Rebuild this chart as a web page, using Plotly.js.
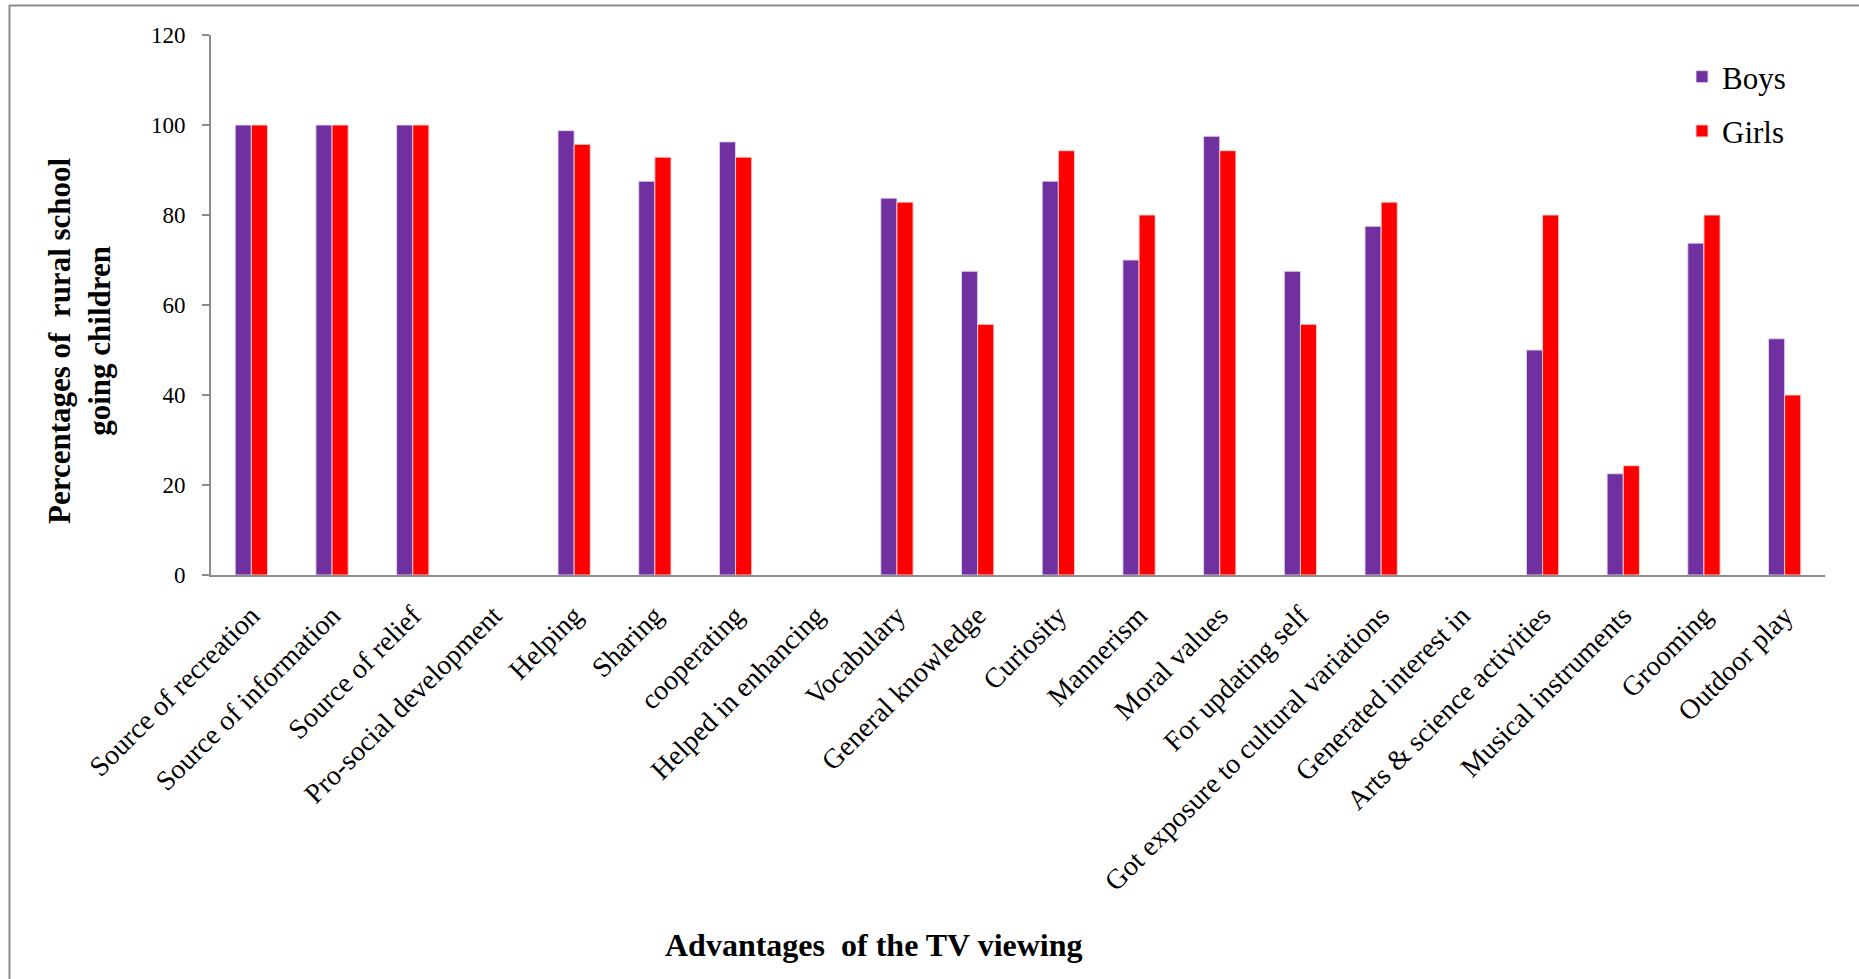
<!DOCTYPE html>
<html>
<head>
<meta charset="utf-8">
<script src="https://cdn.plot.ly/plotly-3.0.1.min.js"></script>
<style>
  html, body { margin: 0; padding: 0; background: #fff; }
  #chart { width: 1859px; height: 979px; }
</style>
</head>
<body>
<div id="chart"></div>
<script>
// Advantages of TV viewing reported by rural school going children (%)
const categories = [
  "Source of recreation",
  "Source of information",
  "Source of relief",
  "Pro-social development",
  "Helping",
  "Sharing",
  "cooperating",
  "Helped in enhancing",
  "Vocabulary",
  "General knowledge",
  "Curiosity",
  "Mannerism",
  "Moral values",
  "For updating self",
  "Got exposure to cultural variations",
  "Generated interest in",
  "Arts & science activities",
  "Musical instruments",
  "Grooming",
  "Outdoor play"
];

const boys  = [100, 100, 100, null, 98.75, 87.5, 96.25, null, 83.75, 67.5, 87.5, 70, 97.5, 67.5, 77.5, null, 50, 22.5, 73.75, 52.5];
const girls = [100, 100, 100, null, 95.71, 92.86, 92.86, null, 82.86, 55.71, 94.29, 80, 94.29, 55.71, 82.86, null, 80, 24.29, 80, 40];

const seriesNames = ["Boys", "Girls"];
const yTicks = [0, 20, 40, 60, 80, 100, 120];

const serif = "'Liberation Serif', 'Times New Roman', serif";
const W = 1859, H = 979;
const M = { l: 211, r: 34, t: 35, b: 404 };
const pw = W - M.l - M.r, ph = H - M.t - M.b;
// pixel -> paper helpers for page decorations
const px = v => (v - M.l) / pw;
const py = v => (H - M.b - v) / ph;

const traces = [
  {
    type: "bar", name: seriesNames[0], x: categories, y: boys,
    marker: { color: "#7030A0", line: { color: "rgba(230,215,240,0.9)", width: 1 } },
    legendgroup: "b", hoverinfo: "x+y"
  },
  {
    type: "bar", name: seriesNames[1], x: categories, y: girls,
    marker: { color: "#FF0000", line: { color: "rgba(255,215,215,0.9)", width: 1 } },
    legendgroup: "g", hoverinfo: "x+y"
  }
];

const layout = {
  width: W, height: H,
  margin: M,
  paper_bgcolor: "#fff", plot_bgcolor: "#fff",
  font: { family: serif, color: "#000" },
  barmode: "group", bargap: 0.6, bargroupgap: 0,
  showlegend: true,
  legend: {
    x: px(1682), y: py(50), xanchor: "left", yanchor: "top",
    font: { family: serif, size: 31, color: "#000" },
    bgcolor: "rgba(0,0,0,0)", borderwidth: 0,
    traceorder: "grouped", tracegroupgap: 11
  },
  xaxis: {
    type: "category",
    tickangle: -45,
    ticks: "",
    showline: true, linecolor: "#8c8c8c", linewidth: 2,
    showgrid: false, zeroline: false,
    tickfont: { family: serif, size: 28, color: "#000" },
    ticklabelstandoff: 11,
    automargin: false
  },
  yaxis: {
    range: [0, 120],
    tickvals: yTicks,
    ticktext: yTicks.map(String),
    ticks: "outside", ticklen: 7, tickcolor: "#8c8c8c", tickwidth: 2,
    showline: true, linecolor: "#8c8c8c", linewidth: 2,
    showgrid: false, zeroline: false,
    tickfont: { family: serif, size: 23, color: "#000" },
    ticklabelstandoff: 12,
    automargin: false
  },
  annotations: [
    {
      text: "<b>Percentages of  rural school<br>going children</b>",
      xref: "paper", yref: "paper", x: px(79), y: py(341),
      xanchor: "center", yanchor: "middle", textangle: -90, showarrow: false,
      font: { family: serif, size: 31, color: "#000" }
    },
    {
      text: "<b>Advantages  of the TV viewing</b>",
      xref: "paper", yref: "paper", x: px(874), y: py(945),
      xanchor: "center", yanchor: "middle", showarrow: false,
      font: { family: serif, size: 32, color: "#000" }
    }
  ],
  shapes: [
    { type: "line", xref: "paper", yref: "paper", x0: px(9), x1: px(1870), y0: py(5.5), y1: py(5.5),
      line: { color: "#8c8c8c", width: 2 } },
    { type: "line", xref: "paper", yref: "paper", x0: px(9.5), x1: px(9.5), y0: py(5), y1: py(990),
      line: { color: "#8c8c8c", width: 2 } }
  ]
};

Plotly.newPlot("chart", traces, layout, { displayModeBar: false, responsive: false });
</script>
</body>
</html>
